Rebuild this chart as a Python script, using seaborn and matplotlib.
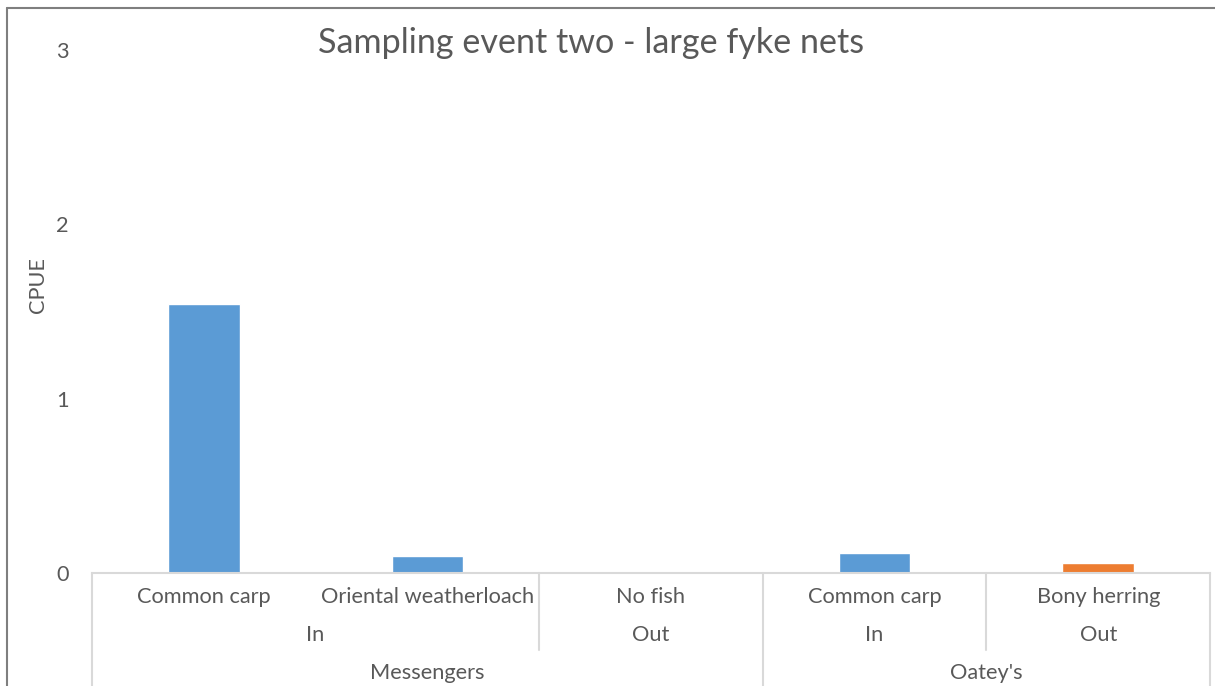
import matplotlib
matplotlib.use("Agg")
import matplotlib.pyplot as plt
from matplotlib.lines import Line2D
import matplotlib.transforms as mtransforms
import seaborn as sns
import pandas as pd

# Catch per unit effort, second sampling event (large fyke nets)
sites = ["Messengers", "Messengers", "Messengers", "Oatey's", "Oatey's"]
positions = ["In", "In", "Out", "In", "Out"]
species = ["Common carp", "Oriental weatherloach", "No fish", "Common carp", "Bony herring"]
cpue = [1.543, 0.098, 0.0, 0.115, 0.058]
bar_colors = ["#5B9BD5", "#5B9BD5", "#5B9BD5", "#5B9BD5", "#ED7D31"]
y_ticks = [0, 1, 2, 3]

TEXT = "#595959"
AXIS_GREY = "#D9D9D9"
FS = 15.7

sns.set_theme(style="white")
plt.rcParams["font.family"] = ["Lato", "DejaVu Sans"]

keys = [f"{s}|{p}|{sp}" for s, p, sp in zip(sites, positions, species)]
df = pd.DataFrame({"key": keys, "cpue": cpue})

fig = plt.figure(figsize=(12.15, 6.86), dpi=100)
ax = fig.add_axes([92 / 1215, 1 - 573 / 686, (1210 - 92) / 1215, (573 - 50) / 686])

sns.barplot(data=df, x="key", y="cpue", hue="key", order=keys, hue_order=keys,
            palette=dict(zip(keys, bar_colors)), width=0.32, dodge=False,
            legend=False, ax=ax, saturation=1)

ax.set_xlim(-0.5, len(keys) - 0.5)
ax.set_ylim(0, 3)
ax.set_yticks(y_ticks)
ax.set_yticklabels([str(t) for t in y_ticks], color=TEXT, fontsize=FS)
ax.tick_params(axis="y", length=0, pad=17)
ax.set_xticks([])
ax.set_xlabel("")
ax.set_ylabel("")
for side in ["left", "right", "top"]:
    ax.spines[side].set_visible(False)
ax.spines["bottom"].set_color(AXIS_GREY)
ax.spines["bottom"].set_linewidth(1.5)

fig.text(38 / 1215, 1 - 285 / 686, "CPUE", rotation=90, ha="center", va="center",
         color=TEXT, fontsize=FS)

# Multi-level category axis
trans = mtransforms.blended_transform_factory(ax.transData, ax.transAxes)
ax_h = 573 - 50
def ay(py):
    return (573 - py) / ax_h

n = len(keys)
# separators between site groups (full height) and position groups (short)
for xb in [-0.5, 2.5, n - 0.5]:
    ax.plot([xb, xb], [0, ay(700)], color=AXIS_GREY, lw=1.5, transform=trans, clip_on=False)
for xb in [1.5, 3.5]:
    ax.plot([xb, xb], [0, ay(650)], color=AXIS_GREY, lw=1.5, transform=trans, clip_on=False)

for i, sp in enumerate(species):
    ax.text(i, ay(597), sp, transform=trans, ha="center", va="center", color=TEXT, fontsize=FS)

def group_centers(labels):
    out = []
    start = 0
    for i in range(1, len(labels) + 1):
        if i == len(labels) or labels[i] != labels[start]:
            out.append(((start + i - 1) / 2, labels[start]))
            start = i
    return out

pos_groups = [f"{s}|{p}" for s, p in zip(sites, positions)]
for c, lab in group_centers(pos_groups):
    ax.text(c, ay(635), lab.split("|")[1], transform=trans, ha="center", va="center",
            color=TEXT, fontsize=FS)
for c, lab in group_centers(sites):
    ax.text(c, ay(673), lab, transform=trans, ha="center", va="center", color=TEXT, fontsize=FS)

fig.text(591 / 1215, 1 - 43 / 686, "Sampling event two - large fyke nets",
         ha="center", va="center", color=TEXT, fontsize=24.6)

# chart frame
frame = "#7F7F7F"
fig.add_artist(Line2D([7 / 1215, 1.0], [1 - 8 / 686] * 2, color=frame, lw=1.5, transform=fig.transFigure))
fig.add_artist(Line2D([7 / 1215] * 2, [0, 1 - 8 / 686], color=frame, lw=1.5, transform=fig.transFigure))

fig.savefig("out.png", dpi=100, facecolor="white")
